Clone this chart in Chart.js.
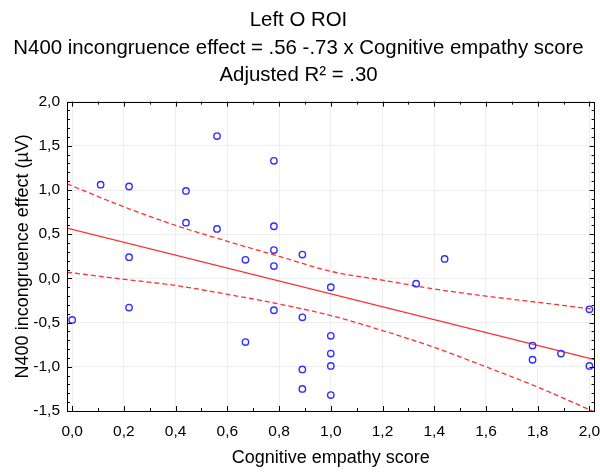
<!DOCTYPE html>
<html>
<head>
<meta charset="utf-8">
<script src="https://cdn.jsdelivr.net/npm/chart.js@4.4.1/dist/chart.umd.min.js"></script>
<style>
  html, body { margin: 0; padding: 0; background: #fff; }
  #wrap { width: 600px; height: 472px; }
</style>
</head>
<body>
<div id="wrap"><canvas id="roi_chart" width="600" height="472"></canvas></div>
<script>
// cognitive empathy score (x) and N400 incongruence effect (y), one per subject
const empathyScore = [0.00, 0.11, 0.22, 0.22, 0.22, 0.44, 0.44, 0.56, 0.56, 0.67, 0.67,
    0.78, 0.78, 0.78, 0.78, 0.78, 0.89, 0.89, 0.89, 0.89, 1.00, 1.00, 1.00, 1.00, 1.00,
    1.33, 1.44, 1.78, 1.78, 1.89, 2.00, 2.00];
const n400Effect = [-0.47, 1.06, 1.04, 0.24, -0.33, 0.99, 0.63, 1.61, 0.56, 0.21, -0.72,
    1.33, 0.59, 0.32, 0.14, -0.36, 0.27, -0.44, -1.03, -1.25, -0.10, -0.65, -0.85, -0.99, -1.32,
    -0.06, 0.22, -0.76, -0.92, -0.85, -0.35, -0.99];

// fitted line, read at the plot edges
const fitX = [-0.02, 2.02];
const fitY = [0.57, -0.92];

// 95% confidence band
const bandX = [-0.02, 0.2, 0.4, 0.6, 0.8, 1.0, 1.2, 1.4, 1.6, 1.8, 2.02];
const bandUpper = [1.07, 0.81, 0.60, 0.42, 0.25, 0.08, -0.02, -0.12, -0.20, -0.27, -0.35];
const bandLower = [0.07, -0.01, -0.08, -0.18, -0.29, -0.42, -0.59, -0.78, -1.00, -1.23, -1.51];

const titleLines = ['Left O ROI',
    'N400 incongruence effect = .56 -.73 x Cognitive empathy score',
    'Adjusted R\u00b2 = .30'];

const FONT = 'Arial, "Liberation Sans", sans-serif';
const RED = '#ff3030';

function pts(xs, ys) {
    return xs.map((x, i) => ({ x: x, y: ys[i] }));
}

function commaFmt(v) {
    return v.toFixed(1).replace('.', ',').replace('-0,0', '0,0');
}

// frame + inward tick marks on all four sides
const frameTicks = {
    id: 'frameTicks',
    afterDraw(chart) {
        const { ctx, chartArea: a, scales } = chart;
        ctx.save();
        ctx.strokeStyle = '#000';
        ctx.lineWidth = 1;
        ctx.beginPath();
        for (let i = 0; i <= 35; i++) {
            const v = -1.5 + i * 0.1;
            const y = Math.round(scales.y.getPixelForValue(v)) + 0.5;
            const len = (i % 5 === 0) ? 5 : 3;
            ctx.moveTo(a.left, y); ctx.lineTo(a.left + len, y);
            ctx.moveTo(a.right, y); ctx.lineTo(a.right - len, y);
        }
        for (let i = 0; i <= 20; i++) {
            const v = i * 0.1;
            const x = Math.round(scales.x.getPixelForValue(v)) + 0.5;
            const len = (i % 2 === 0) ? 5 : 3;
            ctx.moveTo(x, a.bottom); ctx.lineTo(x, a.bottom - len);
            ctx.moveTo(x, a.top); ctx.lineTo(x, a.top + len);
        }
        ctx.stroke();
        ctx.strokeRect(Math.round(a.left) + 0.5, Math.round(a.top) + 0.5,
            Math.round(a.right - a.left) - 1, Math.round(a.bottom - a.top));
        ctx.restore();
    }
};

function initializeChart() {
    const ctx = document.getElementById('roi_chart').getContext('2d');

    new Chart(ctx, {
        type: 'scatter',
        data: {
            datasets: [
                {
                    label: 'subjects',
                    data: pts(empathyScore, n400Effect),
                    showLine: false,
                    pointStyle: 'circle',
                    pointRadius: 3.2,
                    pointBorderWidth: 1.4,
                    pointBorderColor: '#2f2fff',
                    pointBackgroundColor: 'rgba(0,0,0,0)',
                    clip: false
                },
                {
                    label: 'fit',
                    data: pts(fitX, fitY),
                    showLine: true,
                    borderColor: RED,
                    borderWidth: 1.3,
                    pointRadius: 0
                },
                {
                    label: 'upper',
                    data: pts(bandX, bandUpper),
                    showLine: true,
                    borderColor: RED,
                    borderWidth: 1.3,
                    borderDash: [5, 3],
                    cubicInterpolationMode: 'monotone',
                    pointRadius: 0
                },
                {
                    label: 'lower',
                    data: pts(bandX, bandLower),
                    showLine: true,
                    borderColor: RED,
                    borderWidth: 1.3,
                    borderDash: [5, 3],
                    cubicInterpolationMode: 'monotone',
                    pointRadius: 0
                }
            ]
        },
        options: {
            responsive: false,
            animation: false,
            layout: { padding: { left: 0, right: 3, top: 0, bottom: 0 } },
            plugins: {
                legend: { display: false },
                tooltip: { enabled: false },
                title: {
                    display: true,
                    text: titleLines,
                    color: '#000',
                    font: { family: FONT, size: 20.4, weight: 'normal', lineHeight: 1.35 },
                    padding: { top: 7, bottom: 12 }
                }
            },
            scales: {
                x: {
                    type: 'linear',
                    min: -0.02,
                    max: 2.02,
                    afterFit(scale) {
                        scale.height = 61;
                        scale.paddingLeft = 0;
                        scale.paddingRight = 0;
                    },
                    border: { display: false },
                    grid: { color: '#eeeeee', drawTicks: false },
                    ticks: {
                        stepSize: 0.2,
                        includeBounds: false,
                        maxRotation: 0,
                        autoSkip: false,
                        padding: 11,
                        color: '#000',
                        font: { family: FONT, size: 15.5 },
                        callback: (v) => commaFmt(v)
                    },
                    title: {
                        display: true,
                        text: 'Cognitive empathy score',
                        color: '#000',
                        font: { family: FONT, size: 18 },
                        padding: { top: 0, bottom: 3 }
                    }
                },
                y: {
                    type: 'linear',
                    min: -1.5,
                    max: 2.0,
                    afterFit(scale) {
                        scale.width = 67;
                        scale.paddingTop = 0;
                        scale.paddingBottom = 0;
                    },
                    border: { display: false },
                    grid: { color: '#eeeeee', drawTicks: false },
                    ticks: {
                        stepSize: 0.5,
                        padding: 7,
                        color: '#000',
                        font: { family: FONT, size: 15.5 },
                        callback: (v) => commaFmt(v)
                    },
                    title: {
                        display: true,
                        text: 'N400 incongruence effect (\u00b5V)',
                        color: '#000',
                        font: { family: FONT, size: 18 },
                        padding: { top: 12, bottom: 0 }
                    }
                }
            }
        },
        plugins: [frameTicks]
    });
}

document.addEventListener('DOMContentLoaded', initializeChart);
</script>
</body>
</html>
